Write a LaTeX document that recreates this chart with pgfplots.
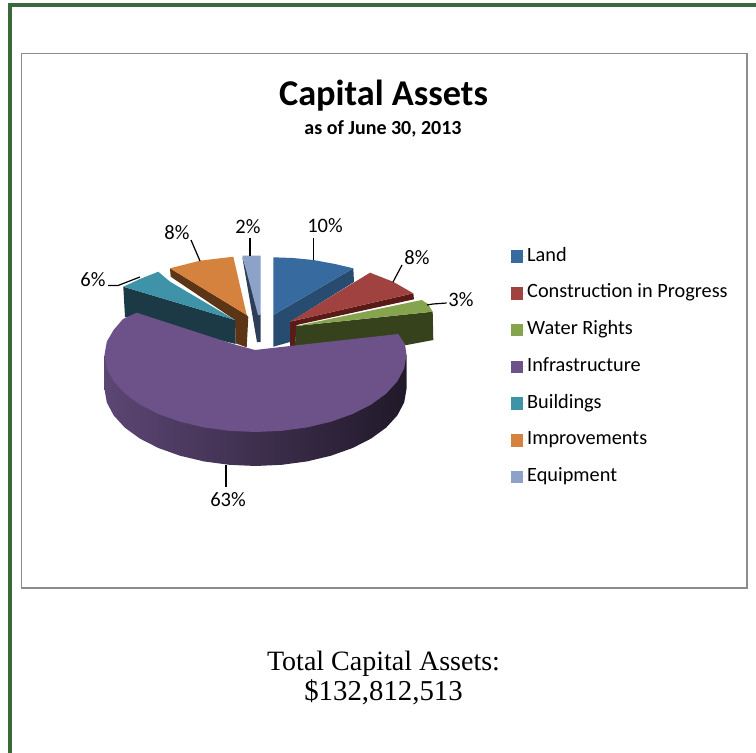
\documentclass[border=0pt]{standalone}
\usepackage{pgfplots}
\pgfplotsset{compat=1.18}
\usepackage{fontspec}
\setmainfont{Carlito}
\newfontfamily\serifface{Liberation Serif}
\definecolor{cLand}{HTML}{376A9F}
\definecolor{cLandS}{HTML}{284B70}
\definecolor{cRed}{HTML}{A04340}
\definecolor{cRedS}{HTML}{5A1A18}
\definecolor{cGreen}{HTML}{85A44D}
\definecolor{cGreenS}{HTML}{36421C}
\definecolor{cPurple}{HTML}{6C5288}
\definecolor{cTeal}{HTML}{3F93A8}
\definecolor{cTealS}{HTML}{1B3A46}
\definecolor{cOrange}{HTML}{D4823D}
\definecolor{cOrangeS}{HTML}{5C3516}
\definecolor{cEquip}{HTML}{8CA2C8}
\definecolor{cEquipS}{HTML}{2F3E58}
\definecolor{cFrame}{HTML}{386A3A}
\definecolor{cBox}{HTML}{8C8C8C}
\begin{document}
\begin{tikzpicture}
\begin{axis}[
  scale only axis, width=756pt, height=753pt,
  xmin=0, xmax=756, ymin=0, ymax=753, y dir=reverse,
  hide axis, clip=true,
  legend cell align=left,
  legend style={at={(axis cs:511,247)}, anchor=north west, draw=none, fill=none,
    font=\fontsize{20.3}{22}\selectfont, row sep=17.7pt, inner sep=0pt,
    nodes={inner sep=1pt, text height=13pt, text depth=4pt, anchor=west}},
  legend image code/.code={\fill[#1] (0pt,-6.3pt) rectangle (11.5pt,6.3pt);\path (0pt,0pt) -- (15pt,0pt);},
]
% page and frames
\addplot[draw=none, fill=white, forget plot] coordinates {(0,0)(756,0)(756,753)(0,753)} --cycle;
\addplot[cFrame, line width=4pt, forget plot] coordinates {(10,753)(10,5)(756,5)};
\addplot[cBox, line width=1.6pt, forget plot] coordinates {(21.5,53.5)(747,53.5)(747,588)(21.5,588)} --cycle;
% side faces
\addplot[draw=none, fill=cLandS, forget plot] coordinates {(273.3,315)(353.3,268.3)(354,282)(290,322)(290,342)(273.3,346.7)} --cycle;
\addplot[draw=none, fill=cRedS, forget plot] coordinates {(290,321.7)(413.3,293.3)(414,299.3)(296.7,325)(295,346)(290,346)} --cycle;
\addplot[draw=none, fill=cGreenS, forget plot] coordinates {(296,326)(432.7,311.7)(433.3,340)(406.7,345)(295,346)} --cycle;
\addplot[draw=none, fill=cEquipS, forget plot] coordinates {(242.3,257)(260.7,315)(260.7,342)(257,342)} --cycle;
\addplot[draw=none, fill=cOrangeS, forget plot] coordinates {(170,268.3)(246.7,315)(248.3,317)(246.7,347.3)(235.7,343.3)(235,320)(170.7,276.7)} --cycle;
\addplot[draw=none, fill=cTealS, forget plot] coordinates {(123.3,286.7)(235,320)(235.7,344)(125,317)} --cycle;
\addplot[draw=none, left color=cPurple!85!black, middle color=cPurple!50!black, right color=cPurple!30!black, forget plot] coordinates {
 (406.5,355)(406.5,389)(404.2,402.4)(397.4,415.3)(386.3,427.5)(371.2,438.5)(352.6,448)(331,455.7)(307.1,461.4)(281.7,464.8)(255.5,466)
 (229.3,464.8)(203.9,461.4)(180,455.7)(158.4,448)(139.8,438.5)(124.7,427.5)(113.6,415.3)(106.8,402.4)(104.5,389)(104.5,355)} --cycle;
% top faces
\addplot[draw=none, fill=cLand] coordinates {(273.3,315)(273.3,257.3)(293,258)(313.3,260)(335,264)(353.3,268.3)} --cycle;
\addlegendentry{Land}
\addplot[draw=none, fill=cRed] coordinates {(290,321.7)(370,272.7)(393,281.7)(413.3,293.3)} --cycle;
\addlegendentry{Construction in Progress}
\addplot[draw=none, fill=cGreen] coordinates {(296,326)(421.7,300)(428,304)(432.7,311.7)} --cycle;
\addlegendentry{Water Rights}
\addplot[draw=none, fill=cPurple] coordinates {
 (398.3,334)(405,344.3)(406.5,355)(404.2,368.4)(397.4,381.3)(386.3,393.5)(371.2,404.5)(352.6,414)(331,421.7)(307.1,427.4)(281.7,430.8)(255.5,432)
 (229.3,430.8)(203.9,427.4)(180,421.7)(158.4,414)(139.8,404.5)(124.7,393.5)(113.6,381.3)(106.8,368.4)(104.5,355)(106.8,341.6)(113.6,330)(123,319)(136.7,312.7)
 (233,344)(255,350)(290,346)} --cycle;
\addlegendentry{Infrastructure}
\addplot[draw=none, fill=cTeal] coordinates {(123.3,286.7)(140,279)(158.3,271.7)(170,281.7)(235,320)} --cycle;
\addlegendentry{Buildings}
\addplot[draw=none, fill=cOrange] coordinates {(170,268.3)(200,260.7)(233.3,256.7)(246.7,315)} --cycle;
\addlegendentry{Improvements}
\addplot[draw=none, fill=cEquip] coordinates {(242.3,255.7)(260.7,255.7)(260.7,315)(258,315)} --cycle;
\addlegendentry{Equipment}
% leader lines
\addplot[black, line width=1.2pt, forget plot] coordinates {(313.7,238)(313.7,260)};
\addplot[black, line width=1.2pt, forget plot] coordinates {(250,238)(250,256)};
\addplot[black, line width=1.2pt, forget plot] coordinates {(191,240)(200,261)};
\addplot[black, line width=1.2pt, forget plot] coordinates {(108,285.5)(118,285.5)(140,277)};
\addplot[black, line width=1.2pt, forget plot] coordinates {(402,265)(393,282)};
\addplot[black, line width=1.2pt, forget plot] coordinates {(427,305)(433,304)(446.7,303)};
\addplot[black, line width=1.2pt, forget plot] coordinates {(226,465)(226,487)};
% labels
\node[font=\fontsize{20.5}{22}\selectfont] at (axis cs:325,226) {10\%};
\node[font=\fontsize{20.5}{22}\selectfont] at (axis cs:417,258) {8\%};
\node[font=\fontsize{20.5}{22}\selectfont] at (axis cs:461,300) {3\%};
\node[font=\fontsize{20.5}{22}\selectfont] at (axis cs:228,500) {63\%};
\node[font=\fontsize{20.5}{22}\selectfont] at (axis cs:93,280) {6\%};
\node[font=\fontsize{20.5}{22}\selectfont] at (axis cs:177,233) {8\%};
\node[font=\fontsize{20.5}{22}\selectfont] at (axis cs:248,227) {2\%};
% titles
\node[font=\fontsize{36.3}{38}\selectfont\bfseries] at (axis cs:383.5,96) {Capital Assets};
\node[font=\fontsize{20}{22}\selectfont\bfseries] at (axis cs:383,128.5) {as of June 30, 2013};
\node[font=\fontsize{28}{30}\selectfont\serifface] at (axis cs:383.5,664) {Total Capital Assets:};
\node[font=\fontsize{28.8}{30}\selectfont\serifface] at (axis cs:383.5,692) {\$132,812,513};
\end{axis}
\end{tikzpicture}
\end{document}
